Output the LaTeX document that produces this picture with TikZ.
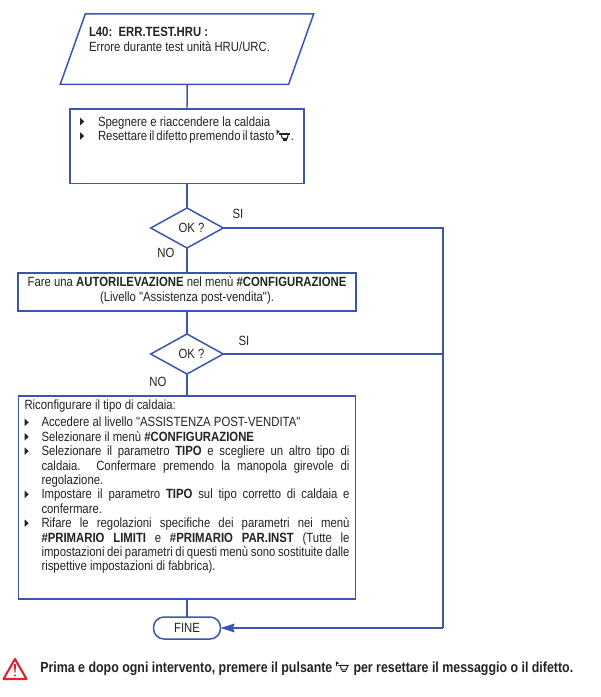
\documentclass[tikz,border=0pt]{standalone}
\usepackage{fontspec}
\setmainfont[FakeStretch=0.85,Ligatures=TeXOff]{Liberation Sans}
\usetikzlibrary{arrows.meta,shapes.geometric}
\definecolor{flowblue}{RGB}{60,85,175}
\definecolor{inkgray}{RGB}{35,35,35}
\definecolor{warnred}{RGB}{228,32,44}
\newlength{\px}
\setlength{\px}{0.02cm}
\hyphenpenalty=10000
\exhyphenpenalty=10000
\tolerance=9999
\newcommand{\bulmark}{\tikz[baseline=-0.4pt]\fill[inkgray] (0,0)--(2.4pt,2.2pt)--(0,4.4pt)--cycle;}
\newcommand{\bulitem}[1]{\par\noindent\hangindent=#1\hangafter=1\makebox[#1][l]{\bulmark}\ignorespaces}
\newcommand{\hornicon}{\tikz[baseline=0pt,line width=0.6pt]{\draw[inkgray] (0,3.4pt)--(0,5.6pt)--(1pt,5pt)--(0,4.5pt);\draw[inkgray,fill=white] (2.2pt,3.8pt)--(2.9pt,1.2pt)--(5.7pt,1.2pt)--(6.4pt,3.8pt)--cycle;\draw[inkgray,line width=0.8pt] (1.1pt,3.8pt)--(7.4pt,3.8pt);\draw[inkgray] (3.2pt,0.3pt)--(5.4pt,0.3pt);}}
\tikzset{
  flowline/.style={draw=flowblue,line width=0.85pt},
  flowbox/.style={flowline,rectangle,outer sep=0pt,inner sep=0pt,text=inkgray},
  okbox/.style={flowline,diamond,aspect=1.8,minimum width=72.5\px,minimum height=40\px,inner sep=0pt,outer sep=0pt,text=inkgray},
  flowlabel/.style={inner sep=0pt,text=inkgray},
}
\begin{document}
\begin{tikzpicture}[x=0.02cm,y=-0.02cm,font=\fontsize{7.6}{8.2}\selectfont]
    \useasboundingbox[fill=white] (0,0) rectangle (600,697);
    \node[flowline,trapezium,trapezium left angle=68,trapezium right angle=112,trapezium stretches=true,minimum width=254\px,minimum height=70.5\px,inner sep=0pt,outer sep=0pt,text=inkgray] (errbox) at (187,49) {\parbox[c][60\px][t]{196\px}{\vspace*{4.6pt}\textbf{L40:\ \ ERR.TEST.HRU :}\\[0.5pt]Errore durante test unità HRU/URC.}};
    \node[flowbox,inner xsep=10\px,inner ysep=5\px] (resetbox) at (187,146.25) {\parbox[t][64.5\px][t]{214\px}{\vspace*{1.4pt}\bulitem{18\px}Spegnere e riaccendere la caldaia\bulitem{18\px}Resettare il difetto premendo il tasto \hornicon.}};
    \node[okbox] (okone) at (187,228) {\hspace*{9\px}OK ?};
    \node[flowbox,inner xsep=6\px,inner ysep=4\px] (autobox) at (187,292) {\parbox[t][30\px][t]{326\px}{\centering Fare una \textbf{AUTORILEVAZIONE} nel menù \textbf{\#CONFIGURAZIONE}\\(Livello "Assistenza post-vendita").}};
    \node[okbox] (oktwo) at (187,354) {\hspace*{9\px}OK ?};
    \node[flowbox,inner xsep=6\px,inner ysep=4\px] (configbox) at (187,497.5) {\parbox[t][195\px][t]{325\px}{%
      \noindent Riconfigurare il tipo di caldaia:\par\vspace{1.6pt}
      \bulitem{17\px}Accedere al livello "ASSISTENZA POST-VENDITA"
      \bulitem{17\px}Selezionare il menù \textbf{\#CONFIGURAZIONE}
      \bulitem{17\px}Selezionare il parametro \textbf{TIPO} e scegliere un altro tipo di caldaia. Confermare premendo la manopola girevole di regolazione.
      \bulitem{17\px}Impostare il parametro \textbf{TIPO} sul tipo corretto di caldaia e confermare.
      \bulitem{17\px}Rifare le regolazioni specifiche dei parametri nei menù \textbf{\#PRIMARIO LIMITI} e \textbf{\#PRIMARIO PAR.INST} (Tutte le impostazioni dei parametri di questi menù sono sostituite dalle rispettive impostazioni di fabbrica).}};
    \node[flowbox,rounded corners=10.5\px,minimum width=67\px,minimum height=22\px] (finebox) at (187,628) {FINE};
    \node[flowlabel] (sione) at (238,214) {SI};
    \node[flowlabel] (noone) at (166,253) {NO};
    \node[flowlabel] (sitwo) at (244,341) {SI};
    \node[flowlabel] (notwo) at (158,382) {NO};
    \coordinate (railtop) at (443,228);
    \coordinate (railend) at (443,628);
    \draw[flowline] (errbox.south)--(resetbox.north);
    \draw[flowline] (resetbox.south)--(okone.north);
    \draw[flowline] (okone.south)--(autobox.north);
    \draw[flowline] (autobox.south)--(oktwo.north);
    \draw[flowline] (oktwo.south)--(configbox.north);
    \draw[flowline] (configbox.south)--(finebox.north);
    \draw[flowline] (okone.east)--(railtop)--(railend);
    \draw[flowline] (oktwo.east)--(oktwo.east-|railtop);
    \draw[flowline,-{Stealth[length=8pt,width=5pt,inset=1pt]}] (railend)--(finebox.east);
    % warning sign and note
    \draw[warnred,line width=1.2pt,line join=round] (15,659)--(26.5,679)--(3.5,679)--cycle;
    \fill[warnred] (13.8,664)--(16.2,664)--(15.4,673)--(14.6,673)--cycle;
    \fill[warnred] (15,675.5) circle (1.1);
    \node[flowlabel,anchor=base west,font=\fontsize{8.3}{9}\selectfont] (notetext) at (40,672) {\textbf{Prima e dopo ogni intervento, premere il pulsante \hornicon{} per resettare il messaggio o il difetto.}};
\end{tikzpicture}
\end{document}
